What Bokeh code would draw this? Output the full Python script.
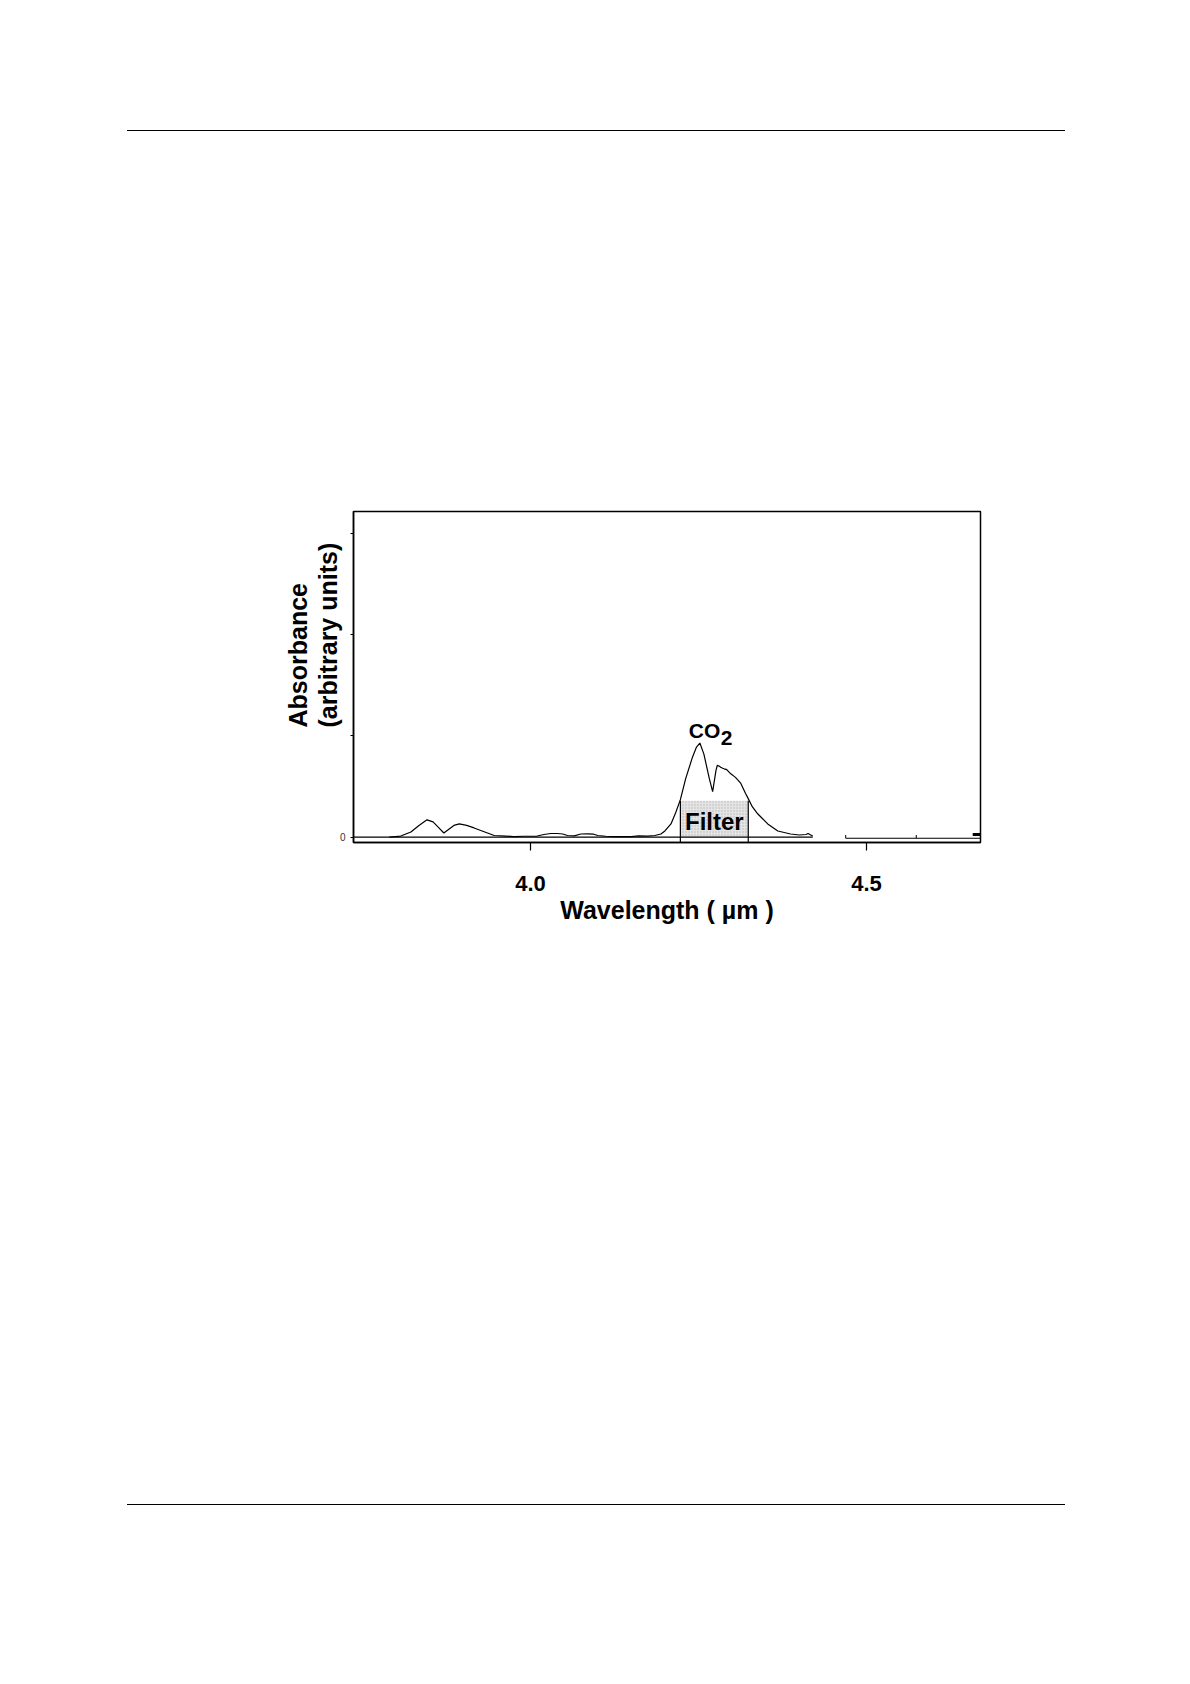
import math
from bokeh.plotting import figure
from bokeh.models import Range1d, Label, FixedTicker, Div, NumeralTickFormatter, Title
from bokeh.layouts import column
from bokeh.embed import file_html
from bokeh.resources import INLINE

# ---------------- data ----------------
wavelength = [3.790, 3.807, 3.822, 3.834, 3.846, 3.855, 3.863, 3.871, 3.879, 3.886,
              3.894, 3.905, 3.916, 3.926, 3.936, 3.946, 3.963, 3.975, 3.990, 4.010,
              4.020, 4.030, 4.040, 4.048, 4.055, 4.065, 4.075, 4.085, 4.094, 4.100,
              4.112, 4.124, 4.150, 4.161, 4.174, 4.185, 4.194, 4.200, 4.209, 4.216,
              4.223, 4.231, 4.241, 4.247, 4.252, 4.258, 4.266, 4.271, 4.276, 4.278,
              4.281, 4.283, 4.286, 4.288, 4.291, 4.293, 4.298, 4.305, 4.313, 4.320,
              4.324, 4.330, 4.338, 4.353, 4.368, 4.387, 4.400, 4.410, 4.413, 4.417,
              4.420]
absorbance = [0.000, 0.010, 0.050, 0.115, 0.170, 0.150, 0.095, 0.040, 0.080, 0.115,
              0.130, 0.115, 0.090, 0.065, 0.040, 0.015, 0.010, 0.005, 0.008, 0.010,
              0.025, 0.035, 0.035, 0.030, 0.015, 0.012, 0.030, 0.032, 0.028, 0.015,
              0.008, 0.005, 0.005, 0.012, 0.010, 0.015, 0.030, 0.060, 0.130, 0.240,
              0.370, 0.580, 0.790, 0.890, 0.930, 0.820, 0.580, 0.450, 0.660, 0.710,
              0.700, 0.690, 0.680, 0.675, 0.670, 0.660, 0.625, 0.590, 0.530, 0.430,
              0.380, 0.300, 0.230, 0.130, 0.060, 0.030, 0.020, 0.025, 0.035, 0.020,
              0.010]

x_ticks = [4.0, 4.5]
y_ticks = [0, 1, 2, 3]
y_tick_labels = {1: "", 2: "", 3: ""}

filter_band = [4.223, 4.324]
filter_height = 0.36
baseline_main = [3.7366, 4.420]
baseline_tail = [4.469, 4.670]
tail_marks = [4.469, 4.574]
end_mark = [4.658, 4.669]

x_start, x_end = 3.7366, 4.6696
y_start, y_end = -0.054, 3.22

FONT = "Liberation Sans"

# ---------------- figure ----------------
p = figure(frame_width=627, frame_height=331,
           x_range=Range1d(x_start, x_end), y_range=Range1d(y_start, y_end),
           output_backend="svg", toolbar_location=None,
           min_border_left=353, min_border_right=190,
           min_border_top=380, min_border_bottom=158,
           background_fill_color="white", border_fill_color="white")

p.outline_line_color = "black"
p.outline_line_width = 1.5
p.xgrid.grid_line_color = None
p.ygrid.grid_line_color = None

# x axis
p.xaxis.ticker = FixedTicker(ticks=x_ticks)
p.xaxis.formatter = NumeralTickFormatter(format="0.0")
p.xaxis.minor_tick_line_color = None
p.xaxis.major_tick_in = 0
p.xaxis.major_tick_out = 8
p.xaxis.major_tick_line_color = "black"
p.xaxis.major_tick_line_width = 1.2
p.xaxis.axis_line_color = "black"
p.xaxis.axis_line_width = 1.5
p.xaxis.major_label_text_font = FONT
p.xaxis.major_label_text_font_style = "bold"
p.xaxis.major_label_text_font_size = "22px"
p.xaxis.major_label_text_color = "black"
p.xaxis.major_label_standoff = 25
p.xaxis.axis_label = "Wavelength ( µm )"
p.xaxis.axis_label_text_font = FONT
p.xaxis.axis_label_text_font_style = "bold"
p.xaxis.axis_label_text_font_size = "25px"
p.xaxis.axis_label_text_color = "black"
p.xaxis.axis_label_standoff = 2

# y axis (ticks + "0")
p.yaxis.ticker = FixedTicker(ticks=y_ticks)
p.yaxis.major_label_overrides = y_tick_labels
p.yaxis.minor_tick_line_color = None
p.yaxis.major_tick_in = 0
p.yaxis.major_tick_out = 3
p.yaxis.major_tick_line_color = "black"
p.yaxis.axis_line_color = "black"
p.yaxis.axis_line_width = 1.5
p.yaxis.major_label_text_font = FONT
p.yaxis.major_label_text_font_size = "10px"
p.yaxis.major_label_text_color = "#333333"
p.yaxis.major_label_standoff = 5

# y-axis title: two lines, bottom-aligned (rotated, reading upwards)
p.add_layout(Title(text="(arbitrary units)", align="left", offset=115, standoff=-10,
                   text_font=FONT, text_font_style="bold", text_font_size="25px",
                   text_color="black"), "left")
p.add_layout(Title(text="Absorbance", align="left", offset=115, standoff=9,
                   text_font=FONT, text_font_style="bold", text_font_size="25px",
                   text_color="black"), "left")

# filter band
p.quad(left=[filter_band[0]], right=[filter_band[1]], bottom=[0], top=[filter_height],
       fill_color="#e4e4e4", line_color=None,
       hatch_pattern="dot", hatch_color="#b8b8b8", hatch_scale=3, hatch_weight=1)

# baselines
p.line(baseline_main, [0, 0], line_color="black", line_width=1.2)
p.line(baseline_tail, [-0.012, -0.012], line_color="black", line_width=1.0)
p.segment(x0=tail_marks, y0=[-0.012] * 2, x1=tail_marks, y1=[0.02] * 2,
          line_color="black", line_width=1.0)
p.line(end_mark, [0.025, 0.025], line_color="black", line_width=3)

# spectrum
p.line(wavelength, absorbance, line_color="black", line_width=1.2)

# filter edges
p.segment(x0=filter_band, y0=[y_start] * 2, x1=filter_band, y1=[filter_height] * 2,
          line_color="black", line_width=1.2)

# texts
p.add_layout(Label(x=4.2735, y=0.15, text="Filter", text_font=FONT, text_font_style="bold",
                   text_font_size="24px", text_align="center", text_baseline="alphabetic",
                   text_color="black"))
p.add_layout(Label(x=4.2355, y=1.05, text="CO", text_font=FONT, text_font_style="bold",
                   text_font_size="21px", text_align="left", text_baseline="alphabetic",
                   text_color="black"))
p.add_layout(Label(x=4.283, y=0.98, text="2", text_font=FONT, text_font_style="bold",
                   text_font_size="21px", text_align="left", text_baseline="alphabetic",
                   text_color="black"))

# page rules
top_rule = Div(text="", width=938, height=1, margin=(130, 0, 0, 127),
               styles={"background-color": "black"})
bottom_rule = Div(text="", width=938, height=1, margin=(504, 0, 0, 127),
                  styles={"background-color": "black"})

layout = column(top_rule, p, bottom_rule, spacing=0)

open("out.html", "w").write(file_html(layout, INLINE))
